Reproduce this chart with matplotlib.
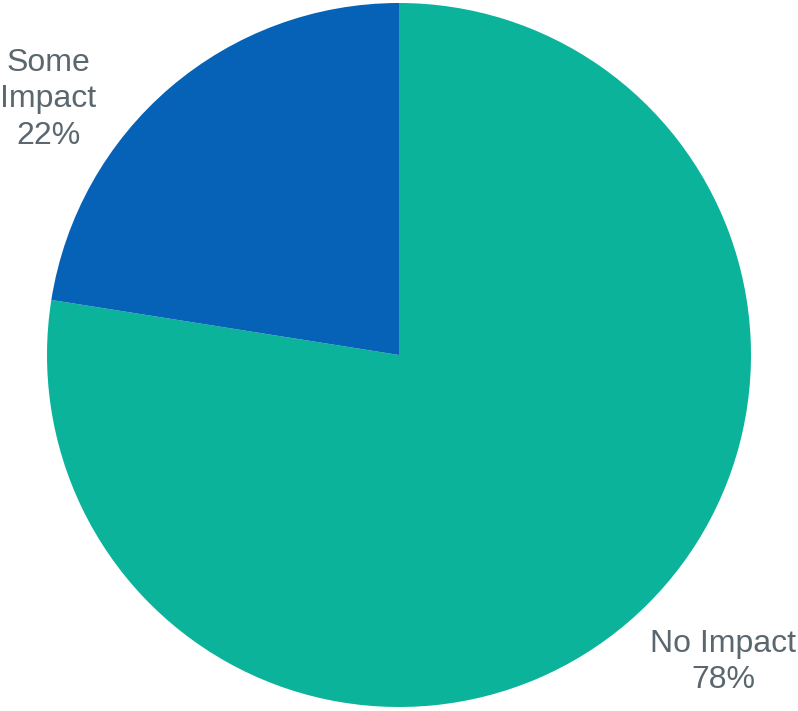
import matplotlib.pyplot as plt

labels = ['No Impact', 'Some Impact']
shares = [77.5, 22.5]
colors = ['#0bb39b', '#0562b7']
# label centres in data units (pie radius = 1)
label_pos = [(0.921, -0.872), (-0.997, 0.727)]
label_text = ['No Impact\n78%', 'Some\nImpact\n22%']

fig = plt.figure(figsize=(7.98, 7.11), dpi=100)
cx, cy, r = 399, 355, 352
ax = fig.add_axes([(cx - r) / 798, (711 - cy - r) / 711, 2 * r / 798, 2 * r / 711])

ax.pie(shares, colors=colors, startangle=90, counterclock=False,
       wedgeprops={'linewidth': 0})
ax.set_xlim(-1, 1)
ax.set_ylim(-1, 1)
ax.set_aspect('equal')
ax.axis('off')

for (x, y), t in zip(label_pos, label_text):
    ax.text(x, y, t, ha='center', va='center', fontsize=23, color='#5b676f',
            family='Liberation Sans', linespacing=1.28, clip_on=False)

fig.savefig('out.png', dpi=100)
